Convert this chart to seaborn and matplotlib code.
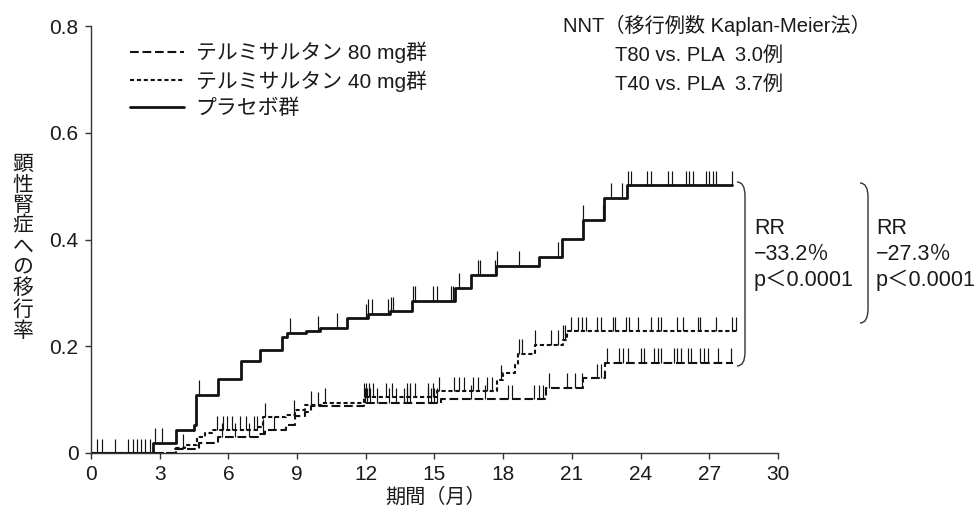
import numpy as np
import pandas as pd
import matplotlib
matplotlib.use("Agg")
import matplotlib.pyplot as plt
import seaborn as sns
from matplotlib.path import Path
from matplotlib.patches import PathPatch
from matplotlib.lines import Line2D

# ---------------- data ----------------
pla_t = [0, 2.7, 3.7, 4.5, 4.6, 5.55, 6.55, 7.4, 8.35, 8.55, 9.4, 10.0, 11.2, 12.1,
         13.07, 14.0, 15.9, 16.6, 17.67, 19.55, 20.55, 21.47, 22.4, 23.4, 28.0]
pla_y = [0, 0.019, 0.043, 0.052, 0.109, 0.139, 0.173, 0.193, 0.218, 0.225, 0.229, 0.235,
         0.253, 0.261, 0.266, 0.285, 0.31, 0.334, 0.351, 0.368, 0.401, 0.437, 0.478, 0.502, 0.502]

t40_t = [0, 3.7, 4.1, 4.65, 5.0, 5.3, 7.3, 7.5, 8.5, 8.9, 9.35, 10.1, 11.9, 15.1,
         17.75, 18.0, 18.5, 18.65, 19.4, 20.6, 20.8, 28.15]
t40_y = [0, 0.009, 0.015, 0.03, 0.037, 0.043, 0.048, 0.067, 0.072, 0.08, 0.09, 0.094,
         0.105, 0.116, 0.137, 0.15, 0.165, 0.186, 0.203, 0.212, 0.228, 0.228]

t80_t = [0, 3.65, 4.7, 5.55, 7.3, 7.6, 8.5, 8.9, 9.35, 9.6, 11.9, 15.3, 19.85, 21.5, 22.45, 28.05]
t80_y = [0, 0.008, 0.019, 0.03, 0.036, 0.043, 0.052, 0.07, 0.077, 0.088, 0.094, 0.101,
         0.122, 0.14, 0.169, 0.169]

pla_cens = [0.26, 0.48, 1.05, 1.62, 1.84, 2.0, 2.2, 2.36, 2.58, 2.8, 3.1, 4.7, 8.7, 9.9, 10.75,
            12.0, 12.1, 12.25, 12.95, 13.1, 13.2, 14.05, 14.15, 14.95, 15.1, 15.7, 15.8,
            16.05, 16.9, 17.0, 17.65, 17.75, 18.67, 20.4, 21.5, 22.35, 22.7, 23.2, 23.45,
            23.57, 24.3, 24.45, 25.2, 25.35, 26.0, 26.1, 26.3, 26.85, 27.0, 27.15, 27.3, 28.0]
t40_cens = [5.5, 5.75, 5.95, 6.15, 6.5, 6.75, 7.1, 7.25, 7.6, 8.85, 9.6, 10.2, 11.9, 12.0,
            12.15, 12.3, 12.9, 13.15, 13.8, 13.95, 14.15, 14.7, 14.95, 15.2, 15.85, 16.05,
            16.3, 16.7, 16.9, 17.3, 17.5, 17.9, 18.7, 18.8, 19.4, 20.07, 20.4, 20.6, 20.7,
            20.95, 21.25, 21.45, 21.6, 22.1, 22.25, 22.8, 22.9, 23.35, 23.5, 23.87, 24.45,
            24.75, 24.9, 25.6, 25.85, 26.5, 26.6, 27.3, 28.0, 28.15]
t80_cens = [4.0, 5.7, 6.3, 6.9, 7.5, 8.0, 9.9, 11.95, 12.05, 12.2, 12.5, 13.0, 13.3, 13.65,
            13.8, 13.95, 14.7, 14.85, 15.0, 15.1, 16.6, 17.2, 18.2, 18.4, 19.35, 19.55,
            19.75, 20.0, 20.8, 21.15, 21.45, 22.1, 22.25, 22.55, 23.05, 23.25, 23.45, 24.0,
            24.15, 24.6, 24.75, 24.9, 25.45, 25.6, 25.75, 26.05, 26.2, 26.6, 26.75, 26.95,
            27.4, 27.95]

legend_labels = ["テルミサルタン 80 mg群", "テルミサルタン 40 mg群", "プラセボ群"]
x_ticks = [0, 3, 6, 9, 12, 15, 18, 21, 24, 27, 30]
y_ticks = [0, 0.2, 0.4, 0.6, 0.8]
y_ticklabels = ["0", "0.2", "0.4", "0.6", "0.8"]
ylabel = "顕性腎症への移行率"
xlabel = "期間（月）"
nnt_lines = ["NNT（移行例数 Kaplan-Meier法）", "T80 vs. PLA  3.0例", "T40 vs. PLA  3.7例"]
rr1 = ["RR", "−33.2％", "p＜0.0001"]
rr2 = ["RR", "−27.3％", "p＜0.0001"]

# ---------------- style ----------------
sns.set_style("ticks")
FAM = ["Liberation Sans", "Noto Sans CJK JP", "DejaVu Sans"]
plt.rcParams["font.family"] = FAM
TXT = "#1a1a1a"
LC = "#121212"
W, H = 978, 523

fig = plt.figure(figsize=(9.78, 5.23), dpi=100)
ax = fig.add_axes([91 / W, 70 / H, 687 / W, 427 / H])

DASH80 = (0, (4.2, 1.8))
DASH40 = (0, (2.0, 1.3))
styles = [
    (t80_t, t80_y, t80_cens, DASH80, 1.5),
    (t40_t, t40_y, t40_cens, DASH40, 1.5),
    (pla_t, pla_y, pla_cens, "-", 2.0),
]
for t, y, cens, ls, lw in styles:
    df = pd.DataFrame({"t": t, "y": y})
    sns.lineplot(data=df, x="t", y="y", ax=ax, drawstyle="steps-post", color=LC,
                 linestyle=ls, linewidth=lw, estimator=None, legend=False)
    tt = np.asarray(t)
    yy = np.asarray(y)
    c = np.asarray(cens)
    idx = np.clip(np.searchsorted(tt, c, side="right") - 1, 0, len(yy) - 1)
    cy = yy[idx]
    ax.vlines(c, cy, cy + 0.027, color=LC, linewidth=0.85)

ax.set_xlim(0, 30)
ax.set_ylim(0, 0.8)
ax.set_xticks(x_ticks)
ax.set_xticklabels([str(v) for v in x_ticks])
ax.set_yticks(y_ticks)
ax.set_yticklabels(y_ticklabels)
ax.set_xlabel("")
ax.set_ylabel("")
for s in ["top", "right"]:
    ax.spines[s].set_visible(False)
for s in ["left", "bottom"]:
    ax.spines[s].set_color("#333333")
    ax.spines[s].set_linewidth(1.0)
ax.tick_params(axis="both", direction="out", length=4, width=1.0, color="#333333",
               labelsize=15, labelcolor=TXT, pad=5)

# legend
handles = [Line2D([], [], color=LC, linestyle=DASH80, linewidth=1.5),
           Line2D([], [], color=LC, linestyle=DASH40, linewidth=1.5),
           Line2D([], [], color=LC, linestyle="-", linewidth=2.0)]
leg = ax.legend(handles, legend_labels, loc="upper left", bbox_to_anchor=(130 / W, 1 - 42 / H),
                bbox_transform=fig.transFigure, frameon=False, fontsize=15,
                handlelength=2.6, handletextpad=0.55, labelspacing=0.33, borderaxespad=0,
                borderpad=0)
for tx in leg.get_texts():
    tx.set_color(TXT)

# NNT text
fig.text(563 / W, 1 - 25 / H, nnt_lines[0], fontsize=14.5, color=TXT, ha="left", va="center")
fig.text(615 / W, 1 - 55 / H, nnt_lines[1], fontsize=14.5, color=TXT, ha="left", va="center")
fig.text(615 / W, 1 - 84 / H, nnt_lines[2], fontsize=14.5, color=TXT, ha="left", va="center")

# brackets
def bracket(x0px, x1px, ytop_px, ybot_px):
    r = 14
    pts = [(x0px, ytop_px), (x1px, ytop_px), (x1px, ytop_px + r),
           (x1px, ybot_px - r), (x1px, ybot_px), (x0px, ybot_px)]
    pts = [(px / W, 1 - py / H) for px, py in pts]
    codes = [Path.MOVETO, Path.CURVE3, Path.CURVE3, Path.LINETO, Path.CURVE3, Path.CURVE3]
    patch = PathPatch(Path(pts, codes), transform=fig.transFigure, fill=False,
                      edgecolor="#333333", linewidth=1.0)
    fig.add_artist(patch)

bracket(737, 745, 182, 366)
bracket(860, 868, 183, 323)

for i, s in enumerate(rr1):
    fig.text(754 / W, 1 - (228 + 26 * i) / H, s, fontsize=15.5, color=TXT, ha="left", va="center")
for i, s in enumerate(rr2):
    fig.text(876 / W, 1 - (228 + 26 * i) / H, s, fontsize=15.5, color=TXT, ha="left", va="center")

# axis labels
fig.text(23 / W, 1 - 248 / H, "\n".join(ylabel), fontsize=15, color=TXT, ha="center",
         va="center", linespacing=1.1)
fig.text(436 / W, 1 - 497 / H, xlabel, fontsize=14.5, color=TXT, ha="center", va="center")

fig.savefig("out.png", dpi=100)
